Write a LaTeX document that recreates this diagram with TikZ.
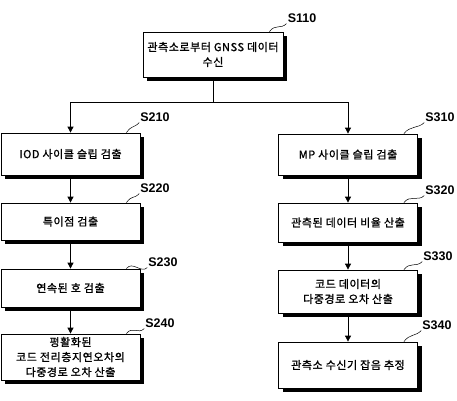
\documentclass[tikz,border=0pt]{standalone}
\usepackage{fontspec}
\setmainfont{Noto Sans CJK KR}[FakeBold=1.2,LetterSpace=5]
\newfontfamily\labelfont{Liberation Sans}
\usetikzlibrary{arrows.meta}
\usetikzlibrary{shadows}
\tikzstyle{stage}=[rectangle,draw=black,fill=white,line width=0.8pt,align=center,inner sep=1pt,minimum width=139pt,font=\fontsize{11}{15}\selectfont,drop shadow={fill=black,opacity=1,shadow xshift=4pt,shadow yshift=-4pt}]
\tikzstyle{steplabel}=[font=\labelfont\bfseries\fontsize{12.5}{14}\selectfont,inner sep=1pt]
\tikzstyle{flow}=[-{Triangle[length=6pt,width=6pt]},line width=0.8pt]
\tikzstyle{wave}=[line width=0.5pt]

\begin{document}
\begin{tikzpicture}[x=1pt, y=-1pt]
    \useasboundingbox (0,0) rectangle (457,400);
    \node[stage, minimum width=140pt, minimum height=45pt] (s110) at (213,54.5) {관측소로부터 GNSS 데이터\\수신};
    % left branch
    \node[stage, minimum height=42pt] (s210) at (70.5,154) {IOD 사이클 슬립 검출};
    \node[stage, minimum height=37pt] (s220) at (70.5,221.5) {특이점 검출};
    \node[stage, minimum height=38pt] (s230) at (70.5,288) {연속된 호 검출};
    \node[stage, minimum height=46pt] (s240) at (70.5,357) {평활화된\\코드 전리층지연오차의\\다중경로 오차 산출};
    % right branch
    \node[stage, minimum height=41pt] (s310) at (348,154.5) {MP 사이클 슬립 검출};
    \node[stage, minimum height=39pt] (s320) at (348,222.5) {관측된 데이터 비율 산출};
    \node[stage, minimum height=43pt] (s330) at (348,291.5) {코드 데이터의\\다중경로 오차 산출};
    \node[stage, minimum height=46pt] (s340) at (348,365) {관측소 수신기 잡음 추정};

    \coordinate (split) at (s110.south |- 0,102);
    \draw[line width=0.8pt] (s110.south) -- (split);
    \draw[flow] (split) -| (s210.north);
    \draw[flow] (split) -| (s310.north);
    \foreach \a/\b in {210/220, 220/230, 230/240, 310/320, 320/330, 330/340} {
        \draw[flow] (s\a.south) -- (s\b.north);
    };

    \foreach \b/\lx/\ly in {110/302/18, 210/155/117, 220/155/188, 230/163/262, 240/160/323, 310/440/117, 320/440/190, 330/438/256, 340/437/325} {
        \node[steplabel] (l\b) at (\lx,\ly) {S\b};
        \draw[wave] ([xshift=-14pt]s\b.north east) .. controls +(6,-8) and +(-6,6) .. (l\b.south west);
    };
\end{tikzpicture}
\end{document}
